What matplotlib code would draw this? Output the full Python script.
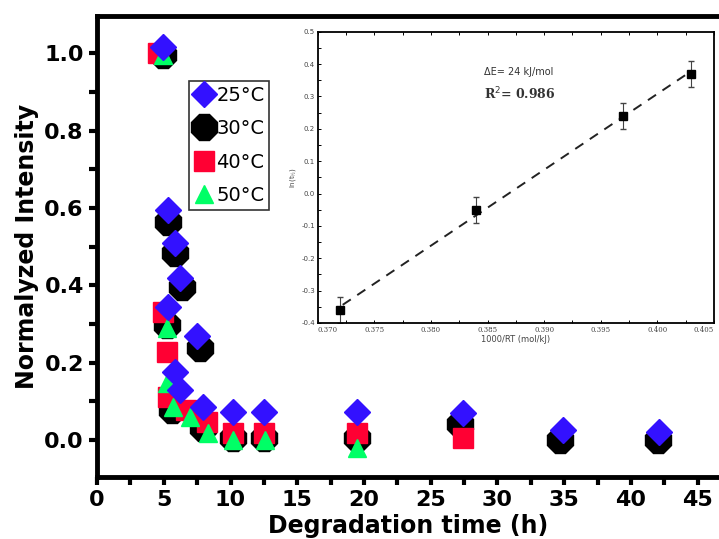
import numpy as np
import matplotlib.pyplot as plt
from matplotlib.ticker import MultipleLocator

# main panel data: normalized intensity vs degradation time
t25 = [4.95, 5.3, 5.85, 6.2, 5.3, 7.5, 5.85, 6.2, 7.9, 10.2, 12.5, 19.5, 27.4, 34.9, 42.1]
y25 = [1.015, 0.594, 0.51, 0.42, 0.345, 0.27, 0.176, 0.13, 0.085, 0.072, 0.072, 0.072, 0.07, 0.026, 0.021]

t30 = [4.95, 5.3, 5.85, 6.35, 5.25, 7.7, 5.6, 7.9, 10.2, 12.5, 19.5, 27.2, 34.7, 42.0]
y30 = [0.995, 0.564, 0.483, 0.396, 0.297, 0.238, 0.078, 0.03, 0.005, 0.005, 0.005, 0.04, 0.0, 0.0]

t40 = [4.55, 4.95, 5.25, 5.3, 6.7, 8.25, 10.2, 12.5, 19.5, 27.4]
y40 = [1.0, 0.33, 0.228, 0.11, 0.078, 0.047, 0.018, 0.018, 0.018, 0.005]

t50 = [4.95, 5.25, 5.25, 5.7, 7.0, 8.3, 10.2, 12.6, 19.5]
y50 = [0.995, 0.29, 0.147, 0.085, 0.06, 0.018, 0.0, 0.0, -0.02]

# inset data: ln(t1/2) vs 1000/RT
inv_rt = [0.372, 0.384, 0.397, 0.403]
ln_t = [-0.36, -0.05, 0.24, 0.37]
ln_err = [0.04, 0.04, 0.04, 0.04]
inset_xticks = [0.370, 0.375, 0.380, 0.385, 0.390, 0.395, 0.400, 0.405]

blue = '#3311FF'
red = '#FF0033'
green = '#00FF66'

fig = plt.figure(figsize=(7.19, 5.39), dpi=100)
ax = fig.add_axes([0.135, 0.115, 0.865, 0.855])

ax.plot(t30, y30, '8', color='black', markersize=20, zorder=2, label='30°C', linestyle='none')
ax.plot(t40, y40, 's', color=red, markersize=15, zorder=3, label='40°C', linestyle='none')
ax.plot(t50, y50, '^', color=green, markersize=13, zorder=4, label='50°C', linestyle='none')
ax.plot(t25, y25, 'D', color=blue, markersize=13, zorder=5, label='25°C', linestyle='none')

ax.set_xlim(0, 46.6)
ax.set_ylim(-0.096, 1.096)
ax.xaxis.set_major_locator(MultipleLocator(5))
ax.xaxis.set_minor_locator(MultipleLocator(2.5))
ax.yaxis.set_major_locator(MultipleLocator(0.2))
ax.yaxis.set_minor_locator(MultipleLocator(0.1))
ax.set_yticks([0.0, 0.2, 0.4, 0.6, 0.8, 1.0])
ax.set_yticklabels(['0.0', '0.2', '0.4', '0.6', '0.8', '1.0'])
ax.tick_params(which='both', direction='out', width=3, length=6, labelsize=16)
for lab in ax.get_xticklabels() + ax.get_yticklabels():
    lab.set_fontweight('bold')
for s in ['left', 'bottom', 'top']:
    ax.spines[s].set_linewidth(3.5)
ax.spines['right'].set_visible(False)

ax.set_xlabel('Degradation time (h)', fontsize=17, fontweight='bold', labelpad=3)
ax.set_ylabel('Normalyzed Intensity', fontsize=17, fontweight='bold', labelpad=4)

h, l = ax.get_legend_handles_labels()
order = [3, 0, 1, 2]
leg = ax.legend([h[i] for i in order], [l[i] for i in order], loc='upper left',
                bbox_to_anchor=(0.148, 0.86), fontsize=14, frameon=True, fancybox=False,
                handlelength=1.0, handletextpad=0.15, borderpad=0.25, labelspacing=0.75,
                borderaxespad=0)
leg.get_frame().set_edgecolor('black')
leg.get_frame().set_linewidth(1.2)

# inset
ins = fig.add_axes([0.442, 0.401, 0.551, 0.540])
ins.errorbar(inv_rt, ln_t, yerr=ln_err, fmt='s', color='black', markersize=6,
             ecolor='#444444', elinewidth=0.8, capsize=2)
k, b = np.polyfit(inv_rt, ln_t, 1)
xf = np.array([0.3722, 0.4025])
ins.plot(xf, k * xf + b, '--', color='#222222', linewidth=1.4, dashes=(5, 4))
ins.set_xlim(0.370, 0.405)
ins.set_ylim(-0.4, 0.5)
ins.set_xticks(inset_xticks)
ins.set_xticklabels(['%.3f' % v for v in inset_xticks], family='DejaVu Serif')
ins.xaxis.set_minor_locator(MultipleLocator(0.0025))
ins.yaxis.set_major_locator(MultipleLocator(0.1))
ins.yaxis.set_minor_locator(MultipleLocator(0.05))
ins.set_yticklabels(['%.1f' % v for v in ins.get_yticks()])
ins.set_xlim(0.370, 0.405)
ins.set_ylim(-0.4, 0.5)
ins.tick_params(which='both', direction='in', top=True, length=2.5, width=0.7,
                labelsize=5, labelcolor='#444444', pad=2)
ins.xaxis.get_major_ticks()[-1].label1.set_horizontalalignment('right')
ins.xaxis.get_major_ticks()[0].label1.set_horizontalalignment('left')
for s in ins.spines.values():
    s.set_linewidth(1.3)
ins.set_xlabel('1000/RT (mol/kJ)', fontsize=6, color='#444444', labelpad=1)
ins.set_ylabel('ln(t$_{½}$)', fontsize=5, color='#444444', labelpad=2)
ins.text(0.3847, 0.365, 'ΔE= 24 kJ/mol', fontsize=7, color='#333333')
ins.text(0.3847, 0.29, 'R$^2$= 0.986', fontsize=9, fontweight='bold', family='DejaVu Serif',
         color='#333333')

fig.savefig('out.png', dpi=100)
